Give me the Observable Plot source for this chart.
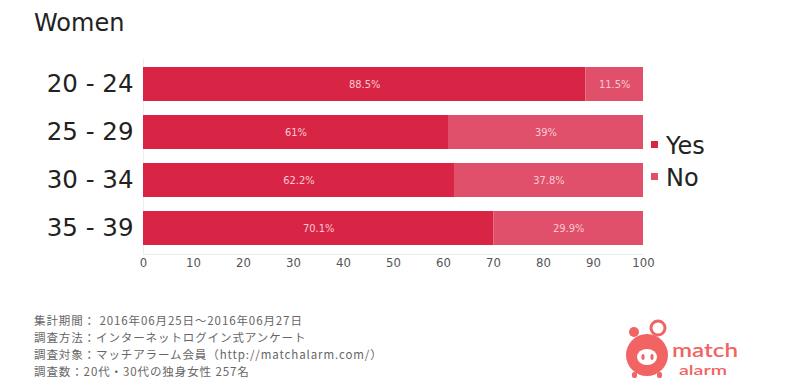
<!DOCTYPE html>
<html>
<head>
<meta charset="utf-8">
<script src="https://cdn.jsdelivr.net/npm/d3@7"></script>
<script src="https://cdn.jsdelivr.net/npm/@observablehq/plot@0.6"></script>
<style>
  body { margin: 0; background: #fff; }
  #wrap { position: relative; width: 800px; height: 388px; overflow: hidden; background: #fff; font-family: "DejaVu Sans", sans-serif; }
  #chart { position: absolute; left: 0; top: 0; }
  #title { position: absolute; left: 34px; top: 10.7px; font-size: 24px; line-height: 24px; color: #222; }
  .leg { position: absolute; left: 651px; font-size: 24px; line-height: 24px; color: #222; }
  .leg .sw { position: absolute; left: 0; width: 7px; height: 7px; }
  .leg .lb { position: absolute; left: 15px; top: 0; white-space: nowrap; }
  #foot { position: absolute; left: 34px; top: 311.5px; font-family: "Noto Sans CJK JP", sans-serif; font-size: 11.5px; letter-spacing: 0.9px; line-height: 17px; color: #666; white-space: nowrap; }
  #logo { position: absolute; left: 620px; top: 318px; }
</style>
</head>
<body>
<div id="wrap">
  <div id="title"></div>
  <div id="chart"></div>
  <div id="legend"></div>
  <div id="foot"></div>
  <svg id="logo" width="130" height="62" viewBox="620 318 130 62">
    <g fill="#f26363" stroke="none">
      <circle cx="634" cy="332" r="5"/>
      <circle cx="658" cy="328" r="7" fill="#fff" stroke="#f26363" stroke-width="3"/>
      <circle cx="647" cy="355" r="21"/>
      <rect x="632" y="372" width="5" height="6" rx="2"/>
      <rect x="657" y="372" width="5" height="6" rx="2"/>
      <ellipse cx="647" cy="357" rx="10" ry="8" fill="#fff"/>
      <ellipse cx="643" cy="357" rx="1.6" ry="3"/>
      <ellipse cx="652" cy="357" rx="1.6" ry="3"/>
      <text x="672" y="357" font-family="Lato, sans-serif" font-weight="600" font-size="20" textLength="66" lengthAdjust="spacingAndGlyphs">match</text>
      <text x="679" y="375" font-family="Lato, sans-serif" font-weight="600" font-size="14" textLength="48" lengthAdjust="spacingAndGlyphs">alarm</text>
    </g>
  </svg>
</div>
<script>
// ---- data ----
const titleText = "Women";
const ages = ["20 - 24", "25 - 29", "30 - 34", "35 - 39"];
const yesValues = [88.5, 61, 62.2, 70.1];
const noValues = [11.5, 39, 37.8, 29.9];
const seriesNames = ["Yes", "No"];
const seriesColors = ["#d92545", "#e0506b"];
const xTicks = [0, 10, 20, 30, 40, 50, 60, 70, 80, 90, 100];
const footLines = [
  "集計期間： 2016年06月25日～2016年06月27日",
  "調査方法：インターネットログイン式アンケート",
  "調査対象：マッチアラーム会員（http://matchalarm.com/）",
  "調査数：20代・30代の独身女性 257名"
];

// ---- table built from the arrays ----
const rows = [];
ages.forEach((a, i) => {
  rows.push({age: a, series: seriesNames[0], value: yesValues[i]});
  rows.push({age: a, series: seriesNames[1], value: noValues[i]});
});

const narrow = "'Liberation Sans Narrow', 'Arial Narrow', 'DejaVu Sans Condensed', sans-serif";

const chart = Plot.plot({
  width: 800,
  height: 280,
  marginLeft: 143,
  marginRight: 157,
  marginTop: 59,
  marginBottom: 26,
  style: {fontFamily: "DejaVu Sans, sans-serif", background: "transparent"},
  x: {domain: [0, 100]},
  y: {domain: ages, paddingInner: 0.29, paddingOuter: 0.15},
  color: {domain: seriesNames, range: seriesColors},
  marks: [
    Plot.frame({anchor: "bottom", stroke: "#ececec"}),
    Plot.ruleX([0], {stroke: "#ececec"}),
    Plot.barX(rows, {x: "value", y: "age", fill: "series"}),
    Plot.text(rows, Plot.stackX({
      x: "value", y: "age", z: "series",
      text: d => d.value + "%",
      fill: "#f9c9d2",
      fontSize: 11, fontFamily: "'DejaVu Sans Condensed', sans-serif"
    })),
    Plot.axisY({tickSize: 0, tickPadding: 10, fontSize: 24.5, fill: "#222", label: null}),
    Plot.axisX({ticks: xTicks, tickSize: 0, tickPadding: 3, fontSize: 13, fill: "#555", fontFamily: narrow, label: null})
  ]
});
document.getElementById("chart").appendChild(chart);

document.getElementById("title").textContent = titleText;

const legendTops = [133.7, 165.7];
const legend = document.getElementById("legend");
seriesNames.forEach((s, i) => {
  const item = document.createElement("div");
  item.className = "leg";
  item.style.top = legendTops[i] + "px";
  const sw = document.createElement("div");
  sw.className = "sw";
  sw.style.background = seriesColors[i];
  sw.style.top = "7px";
  const lb = document.createElement("div");
  lb.className = "lb";
  lb.textContent = s;
  item.appendChild(sw);
  item.appendChild(lb);
  legend.appendChild(item);
});

const foot = document.getElementById("foot");
footLines.forEach(t => {
  const d = document.createElement("div");
  d.textContent = t;
  foot.appendChild(d);
});
</script>
</body>
</html>
